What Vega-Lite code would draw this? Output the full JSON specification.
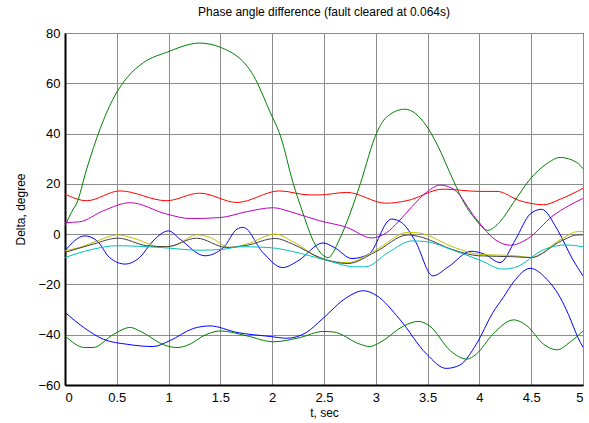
{
  "$schema": "https://vega.github.io/schema/vega-lite/v6.json",
  "width": 518,
  "height": 352,
  "autosize": {"type": "none"},
  "padding": {"left": 65, "top": 33, "right": 6, "bottom": 38},
  "background": "white",
  "title": {"text": "Phase angle difference (fault cleared at 0.064s)", "font": "Liberation Sans", "fontSize": 12, "fontWeight": "normal", "color": "black", "offset": 8, "anchor": "middle"},
  "config": {
    "view": {"stroke": "black", "strokeWidth": 1},
    "axis": {"labelFont": "Liberation Sans", "titleFont": "Liberation Sans", "labelFontSize": 13, "titleFontSize": 12, "titleFontWeight": "normal", "labelColor": "black", "titleColor": "black", "domainColor": "black", "domainWidth": 2, "gridColor": "#8c8c8c", "gridOpacity": 1, "gridWidth": 1, "ticks": false}
  },
  "datasets": {
    "d": [
      {"s": "A", "t": 0, "v": 3.3}, {"s": "A", "t": 0.08, "v": 10}, {"s": "A", "t": 0.11, "v": 12}, {"s": "A", "t": 0.21, "v": 26}, {"s": "A", "t": 0.34, "v": 42}, {"s": "A", "t": 0.48, "v": 55}, {"s": "A", "t": 0.6, "v": 62.3}, {"s": "A", "t": 0.76, "v": 68.3}, {"s": "A", "t": 0.98, "v": 72.3}, {"s": "A", "t": 1.3, "v": 76}, {"s": "A", "t": 1.5, "v": 74.3}, {"s": "A", "t": 1.82, "v": 63}, {"s": "A", "t": 1.98, "v": 48.5}, {"s": "A", "t": 2.08, "v": 39}, {"s": "A", "t": 2.2, "v": 20.6}, {"s": "A", "t": 2.3, "v": 8}, {"s": "A", "t": 2.4, "v": -3}, {"s": "A", "t": 2.54, "v": -9.3}, {"s": "A", "t": 2.65, "v": -2}, {"s": "A", "t": 2.75, "v": 8}, {"s": "A", "t": 2.85, "v": 20}, {"s": "A", "t": 3.01, "v": 40.4}, {"s": "A", "t": 3.1, "v": 46.4}, {"s": "A", "t": 3.28, "v": 49.7}, {"s": "A", "t": 3.49, "v": 43}, {"s": "A", "t": 3.59, "v": 35.8}, {"s": "A", "t": 3.75, "v": 21.2}, {"s": "A", "t": 3.85, "v": 12.6}, {"s": "A", "t": 3.96, "v": 6}, {"s": "A", "t": 4.08, "v": 1.5}, {"s": "A", "t": 4.2, "v": 5}, {"s": "A", "t": 4.33, "v": 12.6}, {"s": "A", "t": 4.49, "v": 21.9}, {"s": "A", "t": 4.65, "v": 28}, {"s": "A", "t": 4.78, "v": 30.5}, {"s": "A", "t": 4.94, "v": 28.5}, {"s": "A", "t": 5.0, "v": 26},

      {"s": "B", "t": 0, "v": 15.9}, {"s": "B", "t": 0.21, "v": 13.3}, {"s": "B", "t": 0.53, "v": 17.2}, {"s": "B", "t": 0.98, "v": 13.3}, {"s": "B", "t": 1.3, "v": 16.3}, {"s": "B", "t": 1.66, "v": 12.6}, {"s": "B", "t": 2.07, "v": 17.2}, {"s": "B", "t": 2.36, "v": 15.6}, {"s": "B", "t": 2.46, "v": 15.6}, {"s": "B", "t": 2.72, "v": 16.6}, {"s": "B", "t": 3.1, "v": 12.3}, {"s": "B", "t": 3.3, "v": 13.3}, {"s": "B", "t": 3.65, "v": 17.9}, {"s": "B", "t": 4.0, "v": 17}, {"s": "B", "t": 4.17, "v": 17}, {"s": "B", "t": 4.39, "v": 13.3}, {"s": "B", "t": 4.62, "v": 11.7}, {"s": "B", "t": 4.78, "v": 13.9}, {"s": "B", "t": 5.0, "v": 18.2},

      {"s": "C", "t": 0, "v": 4.6}, {"s": "C", "t": 0.14, "v": 4.9}, {"s": "C", "t": 0.37, "v": 9.3}, {"s": "C", "t": 0.63, "v": 12.5}, {"s": "C", "t": 0.98, "v": 8}, {"s": "C", "t": 1.21, "v": 6.2}, {"s": "C", "t": 1.5, "v": 6.6}, {"s": "C", "t": 1.75, "v": 8.9}, {"s": "C", "t": 2.01, "v": 10.5}, {"s": "C", "t": 2.2, "v": 8.6}, {"s": "C", "t": 2.46, "v": 5.3}, {"s": "C", "t": 2.72, "v": 2.7}, {"s": "C", "t": 2.96, "v": -1.5}, {"s": "C", "t": 3.1, "v": 0.5}, {"s": "C", "t": 3.22, "v": 5}, {"s": "C", "t": 3.35, "v": 11}, {"s": "C", "t": 3.5, "v": 17}, {"s": "C", "t": 3.62, "v": 19.5}, {"s": "C", "t": 3.75, "v": 17.9}, {"s": "C", "t": 3.97, "v": 6}, {"s": "C", "t": 4.17, "v": -2.7}, {"s": "C", "t": 4.3, "v": -4.4}, {"s": "C", "t": 4.46, "v": -2}, {"s": "C", "t": 4.71, "v": 7.3}, {"s": "C", "t": 5.0, "v": 14.2},

      {"s": "D", "t": 0, "v": -6.6}, {"s": "D", "t": 0.19, "v": -0.7}, {"s": "D", "t": 0.31, "v": -2.7}, {"s": "D", "t": 0.43, "v": -9.3}, {"s": "D", "t": 0.58, "v": -11.9}, {"s": "D", "t": 0.72, "v": -9.3}, {"s": "D", "t": 0.85, "v": -2.7}, {"s": "D", "t": 1.0, "v": 1.3}, {"s": "D", "t": 1.11, "v": -2}, {"s": "D", "t": 1.35, "v": -8.6}, {"s": "D", "t": 1.53, "v": -5.3}, {"s": "D", "t": 1.66, "v": 2}, {"s": "D", "t": 1.72, "v": 2.7}, {"s": "D", "t": 1.91, "v": -7.3}, {"s": "D", "t": 2.1, "v": -13.3}, {"s": "D", "t": 2.25, "v": -10.6}, {"s": "D", "t": 2.49, "v": -3.5}, {"s": "D", "t": 2.6, "v": -5.3}, {"s": "D", "t": 2.77, "v": -9.7}, {"s": "D", "t": 2.93, "v": -8}, {"s": "D", "t": 3.15, "v": 6}, {"s": "D", "t": 3.25, "v": 4.6}, {"s": "D", "t": 3.38, "v": -2.7}, {"s": "D", "t": 3.55, "v": -16.6}, {"s": "D", "t": 3.7, "v": -13}, {"s": "D", "t": 3.92, "v": -6.8}, {"s": "D", "t": 4.05, "v": -8}, {"s": "D", "t": 4.2, "v": -11.3}, {"s": "D", "t": 4.35, "v": -2}, {"s": "D", "t": 4.49, "v": 8}, {"s": "D", "t": 4.6, "v": 9.9}, {"s": "D", "t": 4.75, "v": 2}, {"s": "D", "t": 4.9, "v": -10}, {"s": "D", "t": 5.0, "v": -16.6},

      {"s": "E", "t": 0, "v": -31.1}, {"s": "E", "t": 0.18, "v": -37.1}, {"s": "E", "t": 0.37, "v": -41.8}, {"s": "E", "t": 0.6, "v": -43.8}, {"s": "E", "t": 0.85, "v": -44.7}, {"s": "E", "t": 1.01, "v": -42.4}, {"s": "E", "t": 1.24, "v": -37.5}, {"s": "E", "t": 1.4, "v": -36.5}, {"s": "E", "t": 1.66, "v": -39.1}, {"s": "E", "t": 1.98, "v": -40.7}, {"s": "E", "t": 2.14, "v": -41.4}, {"s": "E", "t": 2.33, "v": -39.1}, {"s": "E", "t": 2.49, "v": -33.5}, {"s": "E", "t": 2.72, "v": -25.2}, {"s": "E", "t": 2.88, "v": -22.5}, {"s": "E", "t": 3.01, "v": -24.5}, {"s": "E", "t": 3.23, "v": -33.8}, {"s": "E", "t": 3.49, "v": -47.7}, {"s": "E", "t": 3.68, "v": -53.4}, {"s": "E", "t": 3.81, "v": -52.1}, {"s": "E", "t": 3.97, "v": -43.8}, {"s": "E", "t": 4.13, "v": -31.2}, {"s": "E", "t": 4.23, "v": -25.2}, {"s": "E", "t": 4.33, "v": -19}, {"s": "E", "t": 4.49, "v": -13.6}, {"s": "E", "t": 4.65, "v": -17.9}, {"s": "E", "t": 4.78, "v": -25.2}, {"s": "E", "t": 4.86, "v": -32}, {"s": "E", "t": 4.95, "v": -41}, {"s": "E", "t": 5.0, "v": -45},

      {"s": "F", "t": 0, "v": -40.4}, {"s": "F", "t": 0.19, "v": -45.1}, {"s": "F", "t": 0.27, "v": -45.1}, {"s": "F", "t": 0.47, "v": -39.8}, {"s": "F", "t": 0.63, "v": -37.1}, {"s": "F", "t": 0.72, "v": -38.5}, {"s": "F", "t": 0.98, "v": -44.4}, {"s": "F", "t": 1.08, "v": -45.1}, {"s": "F", "t": 1.17, "v": -44.4}, {"s": "F", "t": 1.37, "v": -39.8}, {"s": "F", "t": 1.5, "v": -38.5}, {"s": "F", "t": 1.75, "v": -40.4}, {"s": "F", "t": 2.01, "v": -42.8}, {"s": "F", "t": 2.27, "v": -41.1}, {"s": "F", "t": 2.49, "v": -38.7}, {"s": "F", "t": 2.59, "v": -38.9}, {"s": "F", "t": 2.85, "v": -43.8}, {"s": "F", "t": 2.94, "v": -44.7}, {"s": "F", "t": 3.04, "v": -43.1}, {"s": "F", "t": 3.27, "v": -36.5}, {"s": "F", "t": 3.41, "v": -34.7}, {"s": "F", "t": 3.52, "v": -36.5}, {"s": "F", "t": 3.72, "v": -46.4}, {"s": "F", "t": 3.88, "v": -49.7}, {"s": "F", "t": 3.97, "v": -47.7}, {"s": "F", "t": 4.13, "v": -39.8}, {"s": "F", "t": 4.33, "v": -34.1}, {"s": "F", "t": 4.46, "v": -36.5}, {"s": "F", "t": 4.62, "v": -43.8}, {"s": "F", "t": 4.75, "v": -46}, {"s": "F", "t": 4.87, "v": -43.1}, {"s": "F", "t": 5.0, "v": -38.5},

      {"s": "G", "t": 0, "v": -6.6}, {"s": "G", "t": 0.14, "v": -5.3}, {"s": "G", "t": 0.31, "v": -2.7}, {"s": "G", "t": 0.51, "v": -0.3}, {"s": "G", "t": 0.66, "v": -1.6}, {"s": "G", "t": 0.92, "v": -5}, {"s": "G", "t": 1.05, "v": -4.6}, {"s": "G", "t": 1.27, "v": -0.3}, {"s": "G", "t": 1.4, "v": -1.3}, {"s": "G", "t": 1.59, "v": -5.3}, {"s": "G", "t": 1.75, "v": -4}, {"s": "G", "t": 2.03, "v": 0}, {"s": "G", "t": 2.2, "v": -3}, {"s": "G", "t": 2.51, "v": -10.3}, {"s": "G", "t": 2.73, "v": -11.3}, {"s": "G", "t": 2.99, "v": -6.6}, {"s": "G", "t": 3.31, "v": 0.7}, {"s": "G", "t": 3.41, "v": 0.5}, {"s": "G", "t": 3.76, "v": -5.3}, {"s": "G", "t": 3.99, "v": -8}, {"s": "G", "t": 4.34, "v": -8.6}, {"s": "G", "t": 4.5, "v": -9.3}, {"s": "G", "t": 4.79, "v": -2}, {"s": "G", "t": 4.95, "v": 1}, {"s": "G", "t": 5.0, "v": 1},

      {"s": "H", "t": 0, "v": -7.3}, {"s": "H", "t": 0.27, "v": -4}, {"s": "H", "t": 0.51, "v": -1.6}, {"s": "H", "t": 0.79, "v": -4.6}, {"s": "H", "t": 0.98, "v": -5}, {"s": "H", "t": 1.27, "v": -1.6}, {"s": "H", "t": 1.56, "v": -5.3}, {"s": "H", "t": 1.75, "v": -4.5}, {"s": "H", "t": 2.03, "v": -1.7}, {"s": "H", "t": 2.2, "v": -4}, {"s": "H", "t": 2.46, "v": -9.3}, {"s": "H", "t": 2.73, "v": -11.7}, {"s": "H", "t": 3.0, "v": -7}, {"s": "H", "t": 3.31, "v": -0.3}, {"s": "H", "t": 3.41, "v": -0.9}, {"s": "H", "t": 3.76, "v": -6.4}, {"s": "H", "t": 3.99, "v": -8.6}, {"s": "H", "t": 4.34, "v": -9}, {"s": "H", "t": 4.5, "v": -9.3}, {"s": "H", "t": 4.79, "v": -2.7}, {"s": "H", "t": 4.95, "v": -0.3}, {"s": "H", "t": 5.0, "v": -0.3},

      {"s": "I", "t": 0, "v": -9.3}, {"s": "I", "t": 0.27, "v": -6}, {"s": "I", "t": 0.5, "v": -4.6}, {"s": "I", "t": 0.92, "v": -5.3}, {"s": "I", "t": 1.3, "v": -6.4}, {"s": "I", "t": 1.53, "v": -6}, {"s": "I", "t": 1.69, "v": -5}, {"s": "I", "t": 1.96, "v": -5.3}, {"s": "I", "t": 2.28, "v": -7.7}, {"s": "I", "t": 2.54, "v": -10.6}, {"s": "I", "t": 2.8, "v": -13}, {"s": "I", "t": 2.9, "v": -13}, {"s": "I", "t": 3.12, "v": -7.3}, {"s": "I", "t": 3.35, "v": -2.7}, {"s": "I", "t": 3.47, "v": -2.9}, {"s": "I", "t": 3.76, "v": -6.6}, {"s": "I", "t": 4.02, "v": -10.6}, {"s": "I", "t": 4.22, "v": -13.9}, {"s": "I", "t": 4.34, "v": -13.3}, {"s": "I", "t": 4.63, "v": -6}, {"s": "I", "t": 4.83, "v": -4.3}, {"s": "I", "t": 5.0, "v": -5}
    ]
  },
  "data": {"name": "d"},
  "mark": {"type": "line", "strokeWidth": 1, "interpolate": "monotone", "clip": true},
  "encoding": {
    "x": {"field": "t", "type": "quantitative", "scale": {"domain": [0, 5], "nice": false, "zero": false},
      "axis": {"values": [0, 0.5, 1, 1.5, 2, 2.5, 3, 3.5, 4, 4.5, 5], "format": "~g", "title": "t, sec", "labelPadding": 6, "titlePadding": 3}},
    "y": {"field": "v", "type": "quantitative", "scale": {"domain": [-60, 80], "nice": false, "zero": false},
      "axis": {"values": [-60, -40, -20, 0, 20, 40, 60, 80], "title": "Delta, degree", "labelPadding": 5, "titlePadding": 10}},
    "color": {"field": "s", "type": "nominal", "legend": null,
      "scale": {"domain": ["A", "B", "C", "D", "E", "F", "G", "H", "I"], "range": ["#008000", "#ff0000", "#bf00bf", "#0000ff", "#0000ff", "#008000", "#bfbf00", "#404040", "#00bfbf"]}},
    "detail": {"field": "s"}
  }
}
